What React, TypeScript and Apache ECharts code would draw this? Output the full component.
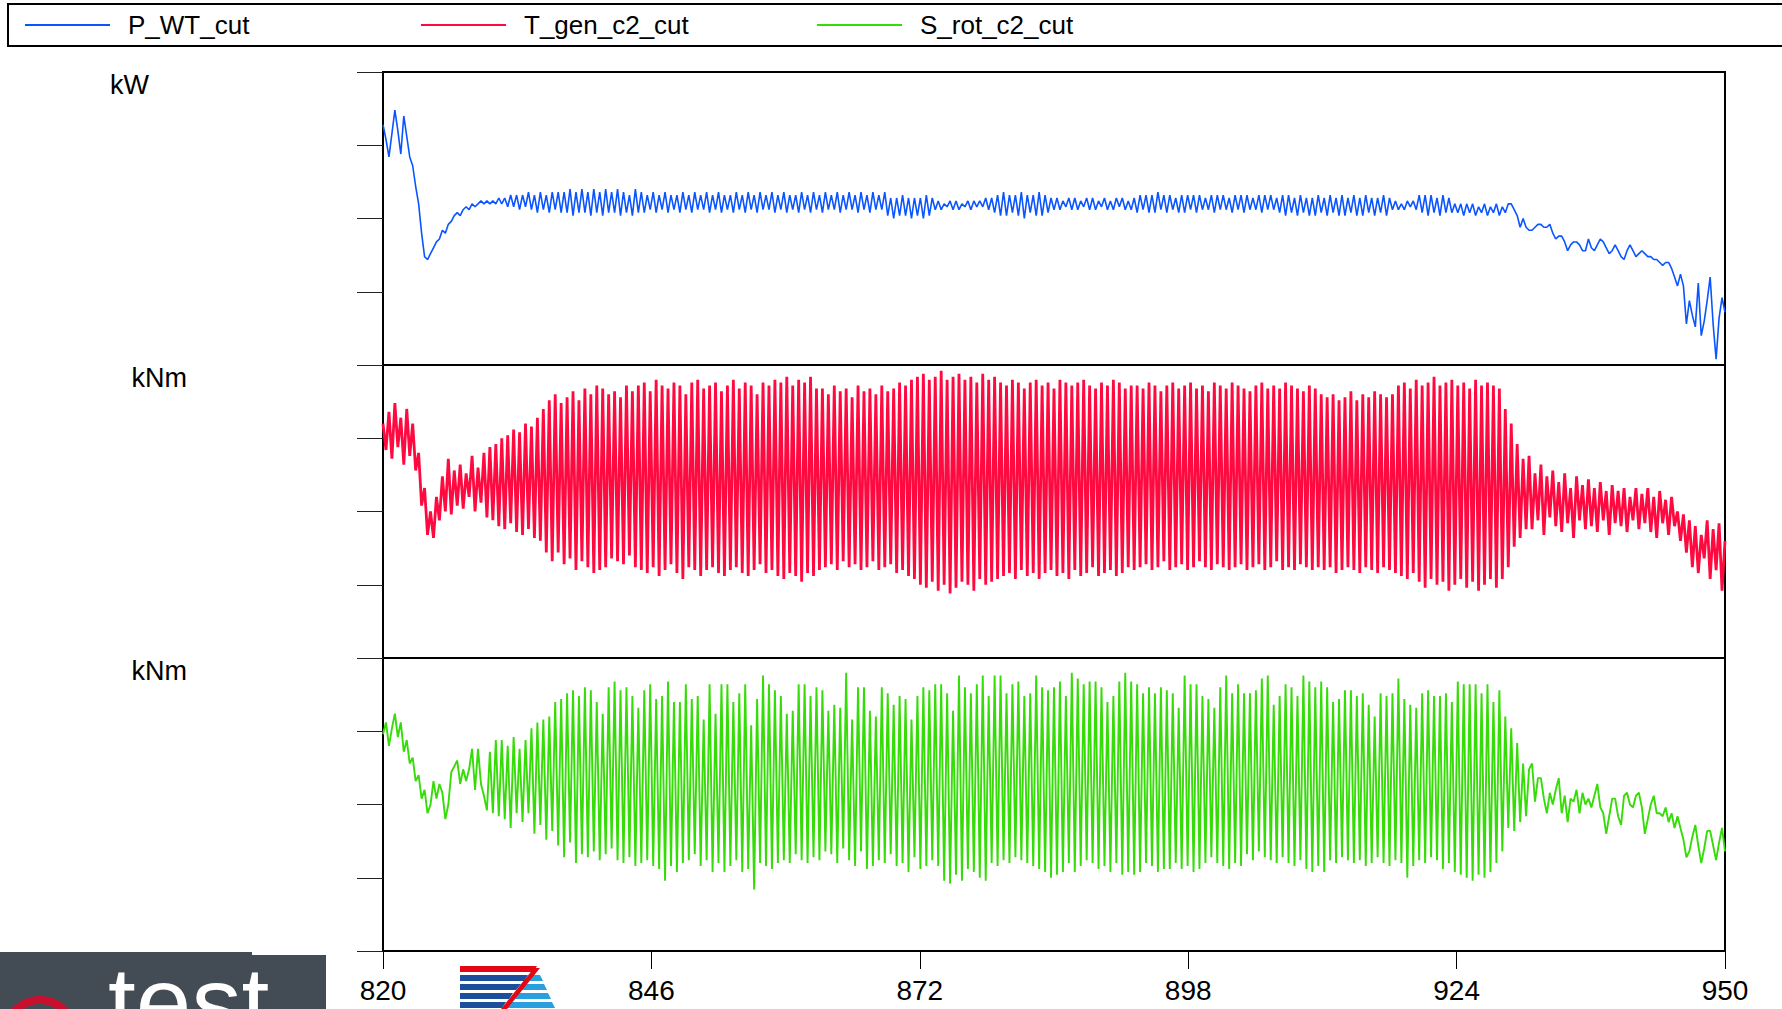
import React, { useEffect, useRef } from "react";
import * as echarts from "echarts";

// time axis
const T_START = 820;
const T_END = 950;
const X_TICK = 26;

const seriesNames = ["P_WT_cut", "T_gen_c2_cut", "S_rot_c2_cut"];
const unitNames = ["kW", "kNm", "kNm"];

// P_WT_cut, % of panel height, sampled uniformly 820..950
const pWT = [
  82, 77, 71, 79, 87, 80, 72, 85, 78, 71, 68, 61, 55, 45, 37, 36, 38, 40, 42, 43,
  46, 45, 48, 49, 51, 52, 51, 53, 54, 53, 55, 54, 55, 56, 55, 56, 55, 56, 55, 57,
  55, 57, 54, 58, 54, 58, 53, 58, 54, 59, 53, 58, 52, 59, 53, 58, 52, 59, 53, 59,
  52, 59, 52, 60, 51, 59, 52, 60, 52, 59, 51, 60, 52, 59, 51, 60, 52, 59, 52, 60,
  51, 59, 52, 58, 51, 60, 52, 59, 52, 58,
  53, 59, 52, 58, 53, 59, 52, 58, 53, 58, 52, 59, 53, 58, 52, 59, 53, 58, 53, 59,
  52, 58, 53, 59, 52, 58, 53, 58, 52, 59, 53, 58, 52, 59, 53, 58, 52, 59, 53, 58,
  53, 59, 52, 58, 53, 59, 52, 58, 53, 58, 52, 59, 53, 58, 52, 59, 53, 58, 52, 59,
  53, 58,
  53, 59, 52, 58, 53, 59, 53, 58, 52, 59, 53, 58, 52, 59, 53, 58, 53, 59,
  51, 57, 50, 57, 51, 58, 51, 57, 50, 57, 51, 57, 50, 58, 51, 57,
  53, 56, 53, 55, 54, 56, 53, 56, 53, 55, 54, 56, 53, 56, 54, 56, 54, 57, 53, 57,
  52, 58, 51, 59, 51, 58, 52, 58, 51, 59, 50, 58, 52, 58, 51, 59, 51, 58, 52, 57,
  53, 57, 53, 56, 54, 57, 53, 57, 53, 56, 54, 57, 53, 57, 53, 56, 54, 57, 53, 56,
  53, 57, 54, 57, 53, 56, 53, 57,
  52, 58, 53, 58, 52, 58, 52, 59, 53, 58, 52, 58, 53, 57, 52, 58, 52, 58,
  53, 58, 52, 58, 53, 57, 53, 58, 52, 58, 53, 58, 53, 57, 52, 58, 53, 58, 52, 58,
  53, 57, 53, 58, 52, 58, 53, 58, 53, 57, 52, 58,
  51, 58, 52, 57, 51, 58, 52, 57, 51, 57, 51, 58, 52, 57, 51, 58, 52, 57, 51, 58,
  51, 57, 52, 58, 51, 57, 51, 58, 52, 57, 51, 57, 52, 58, 51, 57,
  53, 56, 53, 55, 53, 56, 54, 56, 53,
  58, 52, 58, 51, 58, 52, 57, 51, 58, 52, 57, 52,
  55, 52, 55, 51, 55, 52, 55, 51, 54, 52, 55, 51, 54, 52, 55, 51, 54, 52, 55,
  55, 53, 51, 47, 50, 47, 46, 46, 47, 48, 48, 47, 47, 48, 45, 43, 44, 44, 42, 39,
  41, 42, 42, 41, 39, 39, 43, 40, 39, 41, 43, 42, 40, 38, 39, 41, 39, 37, 36, 39,
  41, 39, 37, 38, 39, 38, 37, 37, 36, 36, 35, 34, 35, 35, 33, 30, 27, 31, 27, 14,
  22, 17, 13, 28, 10, 15, 22, 30, 14, 2, 16, 23, 18,
];

// T_gen_c2_cut, % of panel height
const tGen = [
  80, 71, 84, 68, 87, 72, 82, 66, 85, 69, 80, 64, 70, 52, 58, 42, 50, 41, 55, 47,
  62, 50, 68, 49, 64, 52, 66, 51, 63, 55, 69, 50, 65, 53, 70, 48,
  72, 47, 73, 45, 75, 44, 76, 46, 78, 43, 77, 42, 80, 44, 79, 41, 82, 40, 85,
  36, 88, 33, 90, 36, 87, 32, 89, 34, 91, 30, 88, 33, 92, 31, 90, 29, 93, 30,
  92, 31, 90, 34, 91, 33, 89, 32, 93, 35, 91, 31,
  93, 30, 94, 29, 91, 31, 95, 28, 93, 30, 92, 32, 94, 29, 93, 27, 90, 31, 94, 30,
  95, 28, 92, 30, 93, 31, 94, 29, 91, 28, 93, 30, 95, 31, 92, 29, 94, 28, 93, 30,
  90, 32, 94, 29, 93, 30,
  95, 28, 94, 27, 96, 29, 93, 28, 95, 26, 94, 29, 96, 28, 92, 30,
  92, 31, 90, 32, 93, 30, 91, 33, 92, 31, 89, 32, 93, 30, 91, 31, 92, 33, 90, 30,
  93, 31, 91, 32, 92, 29, 94, 30, 93, 28,
  95, 27, 96, 25, 97, 24, 95, 26, 96, 23, 98, 25, 95, 22, 96, 24, 97, 26, 95, 25,
  96, 23, 94, 27, 97, 25, 95, 26, 96, 27,
  94, 28, 93, 29, 95, 27, 94, 30, 92, 28, 94, 29, 95, 27, 93, 29, 94, 30, 92, 28,
  95, 29, 94, 27, 93, 30, 94, 28, 95, 29, 93, 31, 92, 28, 94, 29, 93, 30, 95, 28,
  94, 29, 92, 31, 93, 30,
  93, 31, 92, 32, 94, 30, 93, 31, 91, 33, 93, 30, 94, 31, 92, 32, 93, 30, 94, 31,
  92, 33, 93, 31, 91, 30, 94, 32, 93, 31, 92, 30, 94, 31, 93, 32, 92, 30, 91, 31,
  93, 32, 94, 30, 92, 31, 93, 33, 92, 30, 94, 31, 93, 30, 92, 32, 91, 31, 93, 30,
  92, 31,
  90, 30, 89, 31, 90, 29, 88, 30, 89, 31, 91, 30, 88, 29, 90, 31, 89, 30, 91, 29,
  90, 31, 89, 30, 90, 29,
  93, 28, 94, 27, 92, 29, 95, 26, 93, 24, 94, 27, 96, 25, 93, 26, 94, 23, 95, 25,
  93, 27, 94, 24, 92, 26, 95, 23, 93, 25, 94, 27, 93, 24, 92, 27,
  85, 31, 80, 38, 73, 41, 68, 44,
  69, 44, 63, 47, 66, 42, 62, 48, 64, 45,
  60, 43, 63, 46, 58, 41, 62, 47, 59, 44,
  61, 45, 58, 43, 60, 47, 57, 42, 59, 46,
  57, 45, 58, 43, 55, 47, 58, 44, 56, 46,
  58, 43, 55, 41, 57, 46, 54, 42, 55, 45,
  50, 40, 49, 36, 47, 31, 45, 29, 42, 34, 47, 27, 44, 30, 46, 23, 40,
];

// S_rot_c2_cut, % of panel height
const sRot = [
  74, 78, 70, 76, 81, 73, 78, 68, 72, 64, 66, 58, 60, 52, 55, 47, 50, 58, 52, 57,
  54, 45, 50, 61, 63, 65, 57, 62, 58, 62, 69, 55, 69, 57, 53, 48, 68, 47, 72, 46,
  72, 45, 70, 42, 73, 47, 69, 44, 72, 47, 76, 40, 78, 43, 79, 38, 80, 41, 85, 36,
  86, 32, 88, 37, 89, 30,
  87, 33, 90, 32, 89, 34, 85, 31, 81, 33, 90, 35, 92, 31, 89, 30, 90, 32, 87, 29,
  83, 30, 89, 31, 91, 29, 86, 28, 87, 24, 92, 29, 85, 27, 85, 30, 91, 31, 86, 33,
  87, 29, 79, 31, 91, 27, 81, 30, 91, 27, 91, 29, 85, 31, 88, 27, 91, 28, 77, 21,
  86, 30, 94, 29, 91, 28, 89, 30, 87, 31, 81, 30, 82, 33, 91, 31, 91, 30, 87, 32,
  90, 31, 89, 34, 82, 33, 84,
  30, 83, 35, 95, 31, 79, 29, 90, 34, 90, 28, 82, 29, 80, 31, 90, 30, 88, 33, 84,
  29, 87, 30, 86, 27, 79, 32, 87, 28, 90, 29, 89, 31, 91, 29, 91, 24, 88, 23, 82,
  26, 94, 24, 90, 28, 88, 27, 91, 25, 94, 24, 87, 30, 94, 29, 94, 31, 88, 30, 91,
  32, 92, 31, 87, 30, 88, 29, 94, 28, 90, 27, 89, 25, 90, 26, 92, 27, 87, 30, 95,
  27, 93, 29, 91, 31, 92, 30, 92, 28, 90, 29, 85, 27, 87, 30, 92, 26, 95, 27, 92,
  26, 91, 27, 88, 30, 90, 29, 88, 27, 90, 28, 89, 28, 88, 30, 83, 28, 94, 29, 91,
  27, 91, 28, 87, 30, 86, 32, 83, 30, 90, 29, 94, 28, 88, 30, 91, 29, 88, 33, 88,
  31, 89, 34, 93, 32, 94, 31, 84, 30, 87, 32,
  91, 30, 90, 29, 87, 31, 94, 28, 92, 27, 90, 29, 92, 27, 90, 31, 85, 30, 86, 32,
  89, 31, 89, 30, 87, 31, 88, 29, 84, 30, 80, 32, 88, 30, 87, 29, 88, 31, 93, 30,
  86, 25, 84, 29, 83, 31, 88, 30, 89, 32, 87, 31, 87, 28, 88, 30, 85, 27, 92, 26,
  91, 25, 91, 24, 91, 26, 88, 25, 91, 27, 85, 30, 89, 34, 80, 42, 76, 41, 71, 44,
  64, 46,
  62, 64, 51, 59, 59, 52, 47, 54, 50, 55, 59, 47, 53, 44, 52, 51, 55, 47, 54, 50,
  52, 49, 53, 57, 49, 47, 40, 46, 52, 52, 46, 43, 53, 54, 50, 49, 53, 54, 49, 40,
  45, 50, 53, 47, 47, 46, 49, 44, 47, 42, 46, 42, 38, 32, 34, 39, 43, 36, 30, 35,
  41, 41, 36, 31, 37, 42, 34,
];

const colors = ["#0a55ff", "#ff0a40", "#36dc08"];
const dataSets = [pWT, tGen, sRot];

const toXY = (arr: number[]) =>
  arr.map((v, i) => [T_START + (i * (T_END - T_START)) / (arr.length - 1), v]);

const GRID_LEFT = 383;
const GRID_W = 1342;
const GRID_H = 293;
const GRID_TOPS = [72, 365, 658];
const NAME_PAD = [234, 196, 196];

export default function App() {
  const ref = useRef<HTMLDivElement>(null);

  useEffect(() => {
    if (!ref.current) return;
    const chart = echarts.init(ref.current, undefined, { renderer: "svg" });

    const option: any = {
      animation: false,
      backgroundColor: "#ffffff",
      legend: {
        left: 25,
        top: 12,
        width: 1600,
        orient: "horizontal",
        padding: 0,
        itemGap: 33,
        itemWidth: 85,
        itemHeight: 2,
        icon: "rect",
        textStyle: {
          fontSize: 26,
          fontFamily: "Liberation Sans",
          color: "#000",
          width: 260,
          lineHeight: 26,
          padding: [0, 0, 0, 13],
        },
        data: seriesNames,
      },
      grid: GRID_TOPS.map((top) => ({
        left: GRID_LEFT,
        top,
        width: GRID_W,
        height: GRID_H,
        show: true,
        borderColor: "#000",
        borderWidth: 2,
        backgroundColor: "transparent",
      })),
      xAxis: [0, 1, 2].map((k) => ({
        gridIndex: k,
        type: "value",
        min: T_START,
        max: T_END,
        interval: X_TICK,
        show: k === 2,
        axisLine: { show: true, lineStyle: { color: "#000", width: 2 } },
        axisTick: { show: true, inside: false, length: 18, lineStyle: { color: "#000", width: 1 } },
        axisLabel: {
          show: true,
          margin: 25,
          fontSize: 28,
          fontFamily: "Liberation Sans",
          color: "#000",
        },
        splitLine: { show: false },
      })),
      yAxis: [0, 1, 2].map((k) => ({
        gridIndex: k,
        type: "value",
        min: 0,
        max: 100,
        interval: 25,
        name: unitNames[k],
        nameLocation: "end",
        nameGap: -13,
        nameTextStyle: {
          fontSize: 27,
          fontFamily: "Liberation Sans",
          color: "#000",
          align: "right",
          verticalAlign: "middle",
          padding: [0, NAME_PAD[k], 0, 0],
        },
        axisLine: { show: true, lineStyle: { color: "#000", width: 2 } },
        axisTick: { show: true, inside: false, length: 26, lineStyle: { color: "#222", width: 1 } },
        axisLabel: { show: false },
        splitLine: { show: false },
      })),
      series: dataSets.map((arr, k) => ({
        name: seriesNames[k],
        type: "line",
        xAxisIndex: k,
        yAxisIndex: k,
        data: toXY(arr),
        symbol: "none",
        showSymbol: false,
        lineStyle: { color: colors[k], width: k === 1 ? 2.8 : k === 2 ? 1.9 : 1.6 },
        itemStyle: { color: colors[k] },
      })),
      graphic: [
        { type: "rect", shape: { x: 8, y: 4, width: 1800, height: 42 }, style: { fill: "none", stroke: "#000", lineWidth: 2 }, silent: true, z: 10 },
        { type: "rect", shape: { x: 0, y: 952, width: 252, height: 57 }, style: { fill: "#434b55" }, silent: true },
        { type: "rect", shape: { x: 250, y: 955, width: 76, height: 54 }, style: { fill: "#434b55" }, silent: true },
        { type: "circle", shape: { cx: 40, cy: 1034, r: 34 }, style: { fill: "none", stroke: "#c8102e", lineWidth: 8 }, silent: true },
        {
          type: "text",
          x: 108,
          y: 952,
          style: { text: "test", fill: "#ffffff", font: "100px 'Liberation Sans'", verticalAlign: "top" },
          silent: true,
        },
        { type: "polygon", shape: { points: [[460, 966], [537, 966], [533, 972], [460, 972]] }, style: { fill: "#e30613" }, silent: true },
        { type: "polygon", shape: { points: [[460, 975], [528, 975], [524, 981], [460, 981]] }, style: { fill: "#1b4f9c" }, silent: true },
        { type: "polygon", shape: { points: [[460, 984], [521, 984], [516, 990], [460, 990]] }, style: { fill: "#1b4f9c" }, silent: true },
        { type: "polygon", shape: { points: [[460, 993], [513, 993], [509, 999], [460, 999]] }, style: { fill: "#1b4f9c" }, silent: true },
        { type: "polygon", shape: { points: [[460, 1002], [506, 1002], [502, 1008], [460, 1008]] }, style: { fill: "#1b4f9c" }, silent: true },
        { type: "polygon", shape: { points: [[532, 975], [540, 975], [543, 981], [528, 981]] }, style: { fill: "#2a9fe0" }, silent: true },
        { type: "polygon", shape: { points: [[525, 984], [544, 984], [547, 990], [520, 990]] }, style: { fill: "#2a9fe0" }, silent: true },
        { type: "polygon", shape: { points: [[517, 993], [548, 993], [551, 999], [513, 999]] }, style: { fill: "#2a9fe0" }, silent: true },
        { type: "polygon", shape: { points: [[510, 1002], [552, 1002], [555, 1008], [506, 1008]] }, style: { fill: "#2a9fe0" }, silent: true },
        { type: "polygon", shape: { points: [[534, 968], [540, 968], [507, 1009], [501, 1009]] }, style: { fill: "#e30613" }, silent: true },
      ],
    };

    chart.setOption(option);
    return () => chart.dispose();
  }, []);

  return (
    <div
      ref={ref}
      style={{ position: "absolute", left: 0, top: 0, width: 1782, height: 1009, background: "#fff" }}
    />
  );
}
